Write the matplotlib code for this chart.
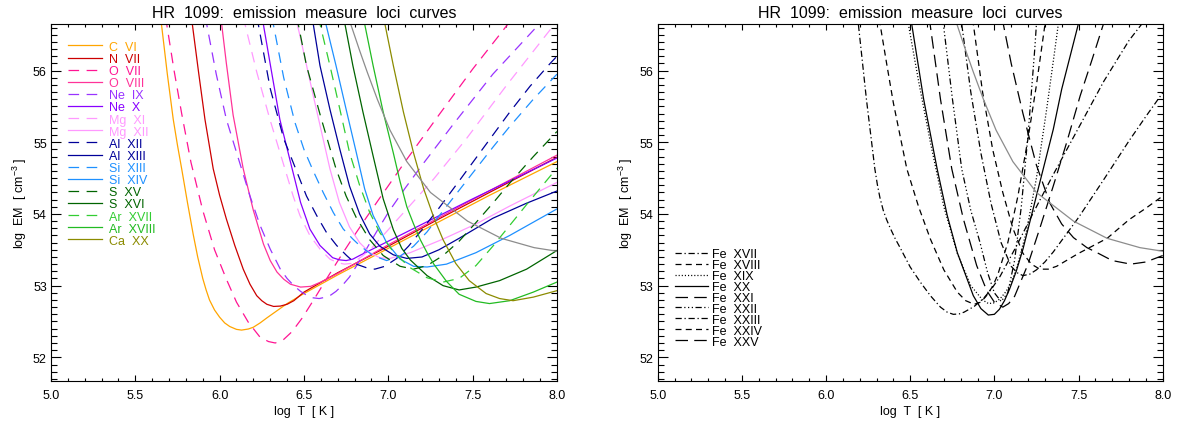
import matplotlib
matplotlib.use('Agg')
import matplotlib.pyplot as plt
from matplotlib.ticker import MultipleLocator, FormatStrFormatter

plt.rcParams['font.family'] = ['Liberation Sans', 'DejaVu Sans']
plt.rcParams['mathtext.fontset'] = 'custom'
plt.rcParams['mathtext.rm'] = 'Liberation Sans'
plt.rcParams['axes.linewidth'] = 0.8

# ---- H- and He-like lines: log T vs log EM ----
c6_t = [5.640, 5.655, 5.690, 5.725, 5.750, 5.775, 5.810, 5.843, 5.870, 5.900, 5.920, 5.940, 5.970, 6.000, 6.030, 6.060, 6.100, 6.130, 6.170, 6.200, 6.240, 6.280, 6.340, 6.400, 6.500, 6.700, 7.000, 7.300, 7.600, 8.000]
c6_em = [57.00, 56.65, 55.95, 55.32, 54.96, 54.63, 54.15, 53.72, 53.40, 53.10, 52.94, 52.80, 52.66, 52.56, 52.48, 52.43, 52.39, 52.38, 52.395, 52.42, 52.48, 52.55, 52.65, 52.75, 52.89, 53.15, 53.52, 53.89, 54.26, 54.73]

n7_t = [5.820, 5.838, 5.875, 5.913, 5.962, 6.000, 6.040, 6.090, 6.140, 6.180, 6.220, 6.250, 6.280, 6.320, 6.360, 6.400, 6.440, 6.500, 6.700, 7.000, 7.300, 7.600, 8.000]
n7_em = [57.00, 56.65, 55.98, 55.32, 54.63, 54.26, 53.93, 53.56, 53.23, 53.02, 52.86, 52.79, 52.74, 52.71, 52.715, 52.74, 52.79, 52.91, 53.18, 53.55, 53.93, 54.30, 54.79]

o7_t = [5.663, 5.686, 5.730, 5.775, 5.830, 5.900, 5.970, 6.040, 6.100, 6.170, 6.240, 6.290, 6.330, 6.380, 6.430, 6.490, 6.560, 6.630, 6.710, 6.790, 6.870, 6.940, 7.100, 7.300, 7.500, 7.700, 7.740]
o7_em = [57.00, 56.65, 56.00, 55.40, 54.72, 54.05, 53.50, 53.09, 52.77, 52.49, 52.28, 52.22, 52.20, 52.25, 52.36, 52.55, 52.81, 53.08, 53.38, 53.67, 53.95, 54.19, 54.73, 55.38, 56.02, 56.62, 56.75]

o8_t = [5.995, 6.012, 6.040, 6.080, 6.140, 6.200, 6.260, 6.300, 6.340, 6.380, 6.420, 6.480, 6.540, 6.600, 6.700, 7.000, 7.500, 8.000]
o8_em = [57.00, 56.65, 56.10, 55.38, 54.63, 54.05, 53.58, 53.35, 53.19, 53.09, 53.02, 52.98, 52.99, 53.05, 53.17, 53.57, 54.20, 54.82]

ne9_t = [5.895, 5.923, 5.980, 6.040, 6.130, 6.180, 6.240, 6.300, 6.360, 6.400, 6.440, 6.480, 6.520, 6.555, 6.590, 6.630, 6.660, 6.690, 6.730, 6.770, 6.810, 6.850, 6.930, 7.000, 7.100, 7.200, 7.385, 7.620, 7.895, 7.950]
ne9_em = [57.00, 56.65, 55.95, 55.32, 54.63, 54.25, 53.84, 53.51, 53.23, 53.10, 53.00, 52.92, 52.86, 52.83, 52.82, 52.84, 52.87, 52.92, 53.01, 53.12, 53.27, 53.43, 53.75, 54.02, 54.36, 54.68, 55.25, 55.95, 56.65, 56.80]

ne10_t = [6.233, 6.259, 6.300, 6.357, 6.430, 6.480, 6.535, 6.595, 6.670, 6.710, 6.750, 6.790, 6.830, 7.000, 7.500, 8.000]
ne10_em = [57.00, 56.65, 56.09, 55.32, 54.63, 54.16, 53.79, 53.56, 53.39, 53.36, 53.35, 53.37, 53.42, 53.62, 54.21, 54.78]

mg11_t = [6.120, 6.150, 6.220, 6.298, 6.387, 6.436, 6.476, 6.535, 6.595, 6.654, 6.700, 6.740, 6.780, 6.810, 6.850, 6.900, 7.000, 7.270, 7.460, 7.700, 7.970, 8.000]
mg11_em = [57.00, 56.65, 55.98, 55.32, 54.63, 54.25, 53.98, 53.70, 53.51, 53.37, 53.32, 53.30, 53.31, 53.35, 53.42, 53.52, 53.78, 54.49, 55.04, 55.79, 56.60, 56.69]

mg12_t = [6.425, 6.460, 6.476, 6.560, 6.654, 6.710, 6.770, 6.830, 6.890, 6.950, 7.010, 7.130, 7.325, 7.520, 7.720, 8.000]
mg12_em = [57.00, 56.65, 56.49, 55.60, 54.63, 54.16, 53.82, 53.60, 53.46, 53.39, 53.38, 53.46, 53.65, 53.86, 54.11, 54.44]

al12_t = [6.200, 6.229, 6.300, 6.380, 6.456, 6.515, 6.575, 6.634, 6.694, 6.753, 6.810, 6.870, 6.920, 6.980, 7.050, 7.120, 7.200, 7.300, 7.420, 7.520, 7.620, 7.720, 7.840, 7.960, 8.000]
al12_em = [57.00, 56.65, 55.75, 55.05, 54.60, 54.25, 53.98, 53.74, 53.56, 53.42, 53.30, 53.25, 53.23, 53.27, 53.38, 53.55, 53.78, 54.08, 54.46, 54.78, 55.10, 55.42, 55.78, 56.10, 56.20]

al13_t = [6.530, 6.555, 6.595, 6.654, 6.713, 6.770, 6.830, 6.890, 6.950, 7.030, 7.110, 7.200, 7.300, 7.420, 7.620, 7.820, 8.000]
al13_em = [57.00, 56.65, 56.07, 55.46, 54.90, 54.39, 54.00, 53.72, 53.55, 53.43, 53.38, 53.40, 53.50, 53.66, 53.94, 54.15, 54.32]

si13_t = [6.290, 6.318, 6.380, 6.446, 6.500, 6.555, 6.614, 6.674, 6.733, 6.790, 6.830, 6.910, 6.990, 7.070, 7.150, 7.230, 7.320, 7.420, 7.520, 7.620, 7.720, 7.860, 8.000]
si13_em = [57.00, 56.65, 55.90, 55.28, 54.90, 54.60, 54.30, 54.02, 53.79, 53.65, 53.56, 53.42, 53.35, 53.41, 53.55, 53.75, 54.03, 54.33, 54.63, 54.93, 55.22, 55.60, 55.95]

si14_t = [6.600, 6.630, 6.690, 6.750, 6.810, 6.860, 6.910, 6.990, 7.070, 7.150, 7.230, 7.345, 7.520, 7.720, 8.000]
si14_em = [57.00, 56.65, 56.07, 55.46, 54.86, 54.35, 53.98, 53.60, 53.37, 53.27, 53.26, 53.30, 53.46, 53.70, 54.07]

s15_t = [6.440, 6.466, 6.515, 6.600, 6.690, 6.750, 6.810, 6.890, 6.970, 7.070, 7.150, 7.230, 7.325, 7.420, 7.520, 7.620, 7.720, 7.860, 8.000]
s15_em = [57.00, 56.65, 56.07, 55.35, 54.63, 54.25, 53.95, 53.64, 53.42, 53.27, 53.23, 53.28, 53.42, 53.62, 53.88, 54.15, 54.43, 54.80, 55.15]

s16_t = [6.715, 6.743, 6.790, 6.850, 6.910, 6.970, 7.030, 7.080, 7.130, 7.230, 7.325, 7.420, 7.520, 7.660, 7.820, 8.000]
s16_em = [57.00, 56.65, 56.07, 55.42, 54.81, 54.21, 53.78, 53.52, 53.36, 53.14, 53.00, 52.94, 52.98, 53.07, 53.23, 53.49]

ar17_t = [6.565, 6.595, 6.654, 6.713, 6.770, 6.830, 6.890, 6.950, 7.030, 7.130, 7.230, 7.325, 7.420, 7.520, 7.620, 7.720, 7.820, 7.940, 8.000]
ar17_em = [57.00, 56.65, 56.07, 55.46, 54.86, 54.40, 54.02, 53.74, 53.47, 53.25, 53.11, 53.05, 53.10, 53.28, 53.55, 53.84, 54.13, 54.47, 54.64]

ar18_t = [6.830, 6.860, 6.910, 6.970, 7.030, 7.070, 7.110, 7.150, 7.190, 7.230, 7.270, 7.345, 7.420, 7.520, 7.600, 7.720, 7.860, 8.000]
ar18_em = [57.00, 56.65, 56.07, 55.42, 54.85, 54.45, 54.10, 53.86, 53.64, 53.46, 53.30, 53.06, 52.88, 52.78, 52.75, 52.79, 52.91, 53.05]

ca20_t = [6.950, 6.980, 7.030, 7.090, 7.150, 7.210, 7.270, 7.325, 7.400, 7.480, 7.580, 7.660, 7.740, 7.860, 8.000]
ca20_em = [57.00, 56.65, 56.07, 55.42, 54.85, 54.35, 53.95, 53.64, 53.31, 53.07, 52.89, 52.82, 52.79, 52.84, 52.93]

# grey reference curve, drawn in both panels
cont_t = [6.730, 6.777, 6.830, 6.875, 6.935, 7.010, 7.110, 7.250, 7.470, 7.670, 7.865, 8.000]
cont_em = [57.00, 56.65, 56.28, 55.98, 55.60, 55.17, 54.73, 54.30, 53.90, 53.66, 53.53, 53.48]

# ---- Fe lines ----
fe17_t = [6.175, 6.192, 6.240, 6.290, 6.305, 6.320, 6.340, 6.360, 6.380, 6.410, 6.440, 6.500, 6.560, 6.620, 6.680, 6.720, 6.756, 6.790, 6.820, 6.850, 6.880, 6.935, 6.985, 7.034, 7.133, 7.232, 7.350, 7.500, 7.650, 7.800, 7.876, 7.950]
fe17_em = [57.00, 56.65, 55.60, 54.63, 54.41, 54.23, 54.05, 53.92, 53.81, 53.66, 53.53, 53.26, 53.05, 52.86, 52.70, 52.63, 52.60, 52.605, 52.63, 52.67, 52.71, 52.82, 52.96, 53.13, 53.56, 54.02, 54.55, 55.20, 55.85, 56.42, 56.65, 56.91]

fe18_t = [6.300, 6.321, 6.360, 6.400, 6.480, 6.550, 6.620, 6.700, 6.780, 6.830, 6.880, 6.920, 6.950, 6.990, 7.020, 7.080, 7.140, 7.200, 7.250, 7.301, 7.320]
fe18_em = [57.00, 56.65, 56.10, 55.55, 54.63, 54.10, 53.65, 53.22, 52.91, 52.79, 52.74, 52.77, 52.85, 52.99, 53.15, 53.60, 54.25, 55.05, 55.80, 56.65, 56.98]

fe19_t = [6.470, 6.489, 6.550, 6.620, 6.700, 6.780, 6.860, 6.930, 6.965, 7.000, 7.035, 7.070, 7.100, 7.130, 7.190, 7.250, 7.310, 7.360, 7.380, 7.400]
fe19_em = [57.00, 56.65, 55.85, 55.00, 54.10, 53.45, 53.00, 52.80, 52.75, 52.76, 52.82, 52.92, 53.05, 53.22, 53.75, 54.50, 55.45, 56.30, 56.65, 57.00]

fe20_t = [6.490, 6.509, 6.580, 6.660, 6.720, 6.780, 6.875, 6.920, 6.964, 7.000, 7.030, 7.060, 7.090, 7.130, 7.170, 7.270, 7.350, 7.400, 7.499, 7.520]
fe20_em = [57.00, 56.65, 55.60, 54.63, 53.98, 53.46, 52.86, 52.68, 52.59, 52.60, 52.67, 52.79, 52.95, 53.20, 53.51, 54.44, 55.18, 55.74, 56.65, 56.85]

fe21_t = [6.600, 6.618, 6.680, 6.747, 6.816, 6.895, 6.955, 7.000, 7.050, 7.085, 7.120, 7.200, 7.270, 7.350, 7.430, 7.510, 7.580, 7.648, 7.680]
fe21_em = [57.00, 56.65, 55.60, 54.63, 53.93, 53.28, 52.93, 52.77, 52.70, 52.75, 52.85, 53.30, 53.80, 54.39, 55.00, 55.65, 56.15, 56.65, 56.88]

fe22_t = [6.680, 6.697, 6.750, 6.806, 6.860, 6.915, 6.960, 7.000, 7.040, 7.080, 7.120, 7.160, 7.200, 7.240, 7.250]
fe22_em = [57.00, 56.65, 55.62, 54.63, 54.05, 53.60, 53.18, 52.90, 52.78, 52.90, 53.35, 54.10, 55.10, 56.30, 56.65]

fe23_t = [6.790, 6.806, 6.860, 6.920, 6.980, 7.040, 7.100, 7.135, 7.170, 7.210, 7.250, 7.300, 7.350, 7.500, 7.650, 7.800, 7.900, 8.000]
fe23_em = [57.00, 56.65, 55.70, 54.85, 54.15, 53.60, 53.27, 53.18, 53.14, 53.16, 53.22, 53.33, 53.47, 53.95, 54.48, 55.02, 55.36, 55.69]

fe24_t = [6.860, 6.875, 6.930, 6.990, 7.050, 7.110, 7.170, 7.220, 7.270, 7.320, 7.370, 7.500, 7.670, 7.800, 7.900, 8.000]
fe24_em = [57.00, 56.65, 55.70, 54.90, 54.30, 53.80, 53.45, 53.30, 53.23, 53.23, 53.27, 53.45, 53.66, 53.92, 54.08, 54.25]

fe25_t = [7.040, 7.053, 7.100, 7.170, 7.250, 7.330, 7.400, 7.470, 7.550, 7.610, 7.700, 7.810, 7.900, 8.000]
fe25_em = [57.00, 56.65, 56.10, 55.40, 54.68, 54.15, 53.86, 53.67, 53.53, 53.46, 53.35, 53.30, 53.33, 53.42]

# line styles (IDL-like)
solid = '-'
dashed_l = (0, (8.5, 6.0))
dashed = (0, (4.8, 3.4))
dotted = (0, (0.9, 1.6))
dashdot = (0, (5.0, 2.2, 1.0, 2.2))
dash3dot = (0, (5.0, 2.0, 1.0, 2.0, 1.0, 2.0, 1.0, 2.0))
longdash = (0, (10.0, 5.0))

left_lines = [
    ('C  VI', c6_t, c6_em, '#ffa500', solid),
    ('N  VII', n7_t, n7_em, '#cc0000', solid),
    ('O  VII', o7_t, o7_em, '#ff1493', dashed_l),
    ('O  VIII', o8_t, o8_em, '#ff3399', solid),
    ('Ne  IX', ne9_t, ne9_em, '#9933ff', dashed_l),
    ('Ne  X', ne10_t, ne10_em, '#8800ff', solid),
    ('Mg  XI', mg11_t, mg11_em, '#ff99ff', dashed_l),
    ('Mg  XII', mg12_t, mg12_em, '#ff99ff', solid),
    ('Al  XII', al12_t, al12_em, '#000099', dashed_l),
    ('Al  XIII', al13_t, al13_em, '#000099', solid),
    ('Si  XIII', si13_t, si13_em, '#1e90ff', dashed_l),
    ('Si  XIV', si14_t, si14_em, '#1e90ff', solid),
    ('S  XV', s15_t, s15_em, '#006400', dashed_l),
    ('S  XVI', s16_t, s16_em, '#006400', solid),
    ('Ar  XVII', ar17_t, ar17_em, '#32cd32', dashed_l),
    ('Ar  XVIII', ar18_t, ar18_em, '#22bb22', solid),
    ('Ca  XX', ca20_t, ca20_em, '#8b8b00', solid),
]

right_lines = [
    ('Fe  XVII', fe17_t, fe17_em, dashdot),
    ('Fe  XVIII', fe18_t, fe18_em, dashed),
    ('Fe  XIX', fe19_t, fe19_em, dotted),
    ('Fe  XX', fe20_t, fe20_em, solid),
    ('Fe  XXI', fe21_t, fe21_em, longdash),
    ('Fe  XXII', fe22_t, fe22_em, dash3dot),
    ('Fe  XXIII', fe23_t, fe23_em, dashdot),
    ('Fe  XXIV', fe24_t, fe24_em, dashed),
    ('Fe  XXV', fe25_t, fe25_em, longdash),
]


def style_axes(ax):
    ax.set_xlim(5.0, 8.0)
    ax.set_ylim(51.67, 56.65)
    ax.xaxis.set_major_locator(MultipleLocator(0.5))
    ax.xaxis.set_minor_locator(MultipleLocator(0.1))
    ax.yaxis.set_major_locator(MultipleLocator(1))
    ax.yaxis.set_minor_locator(MultipleLocator(0.1))
    ax.xaxis.set_major_formatter(FormatStrFormatter('%.1f'))
    ax.yaxis.set_major_formatter(FormatStrFormatter('%d'))
    ax.tick_params(which='both', direction='in', top=True, right=True,
                   width=0.8, labelsize=9)
    ax.tick_params(axis='x', which='major', length=4.3, pad=6)
    ax.tick_params(axis='x', which='minor', length=2.2)
    ax.tick_params(axis='y', which='major', length=7.5, pad=3)
    ax.tick_params(axis='y', which='minor', length=4.0)
    ax.set_xlabel('log  T  [ K ]', fontsize=9, labelpad=3)
    ax.set_ylabel(r'log  EM  [ cm$^{-3}$ ]', fontsize=9, labelpad=3)
    ax.set_title('HR  1099:  emission  measure  loci  curves', fontsize=11.5, pad=5)


fig = plt.figure(figsize=(11.88, 4.27), dpi=100)
ax1 = fig.add_axes([0.0429, 0.1054, 0.4259, 0.8361])
ax2 = fig.add_axes([0.5536, 0.1054, 0.4251, 0.8361])

for label, t, em, color, ls in left_lines:
    ax1.plot(t, em, color=color, linestyle=ls, lw=0.9, label=label)
ax1.plot(cont_t, cont_em, color='#8c8c8c', lw=0.9)
style_axes(ax1)
ax1.legend(loc='upper left', bbox_to_anchor=(0.0336, 0.953), frameon=False,
           fontsize=9, handlelength=2.72, handletextpad=0.55, labelspacing=0.01,
           borderpad=0, borderaxespad=0, labelcolor='linecolor')

for label, t, em, ls in right_lines:
    ax2.plot(t, em, color='black', linestyle=ls, lw=0.9, label=label)
ax2.plot(cont_t, cont_em, color='#8c8c8c', lw=0.9)
style_axes(ax2)
ax2.legend(loc='upper left', bbox_to_anchor=(0.0343, 0.372), frameon=False,
           fontsize=9, handlelength=2.65, handletextpad=0.35, labelspacing=-0.085,
           borderpad=0, borderaxespad=0)

fig.savefig('out.png', dpi=100)
